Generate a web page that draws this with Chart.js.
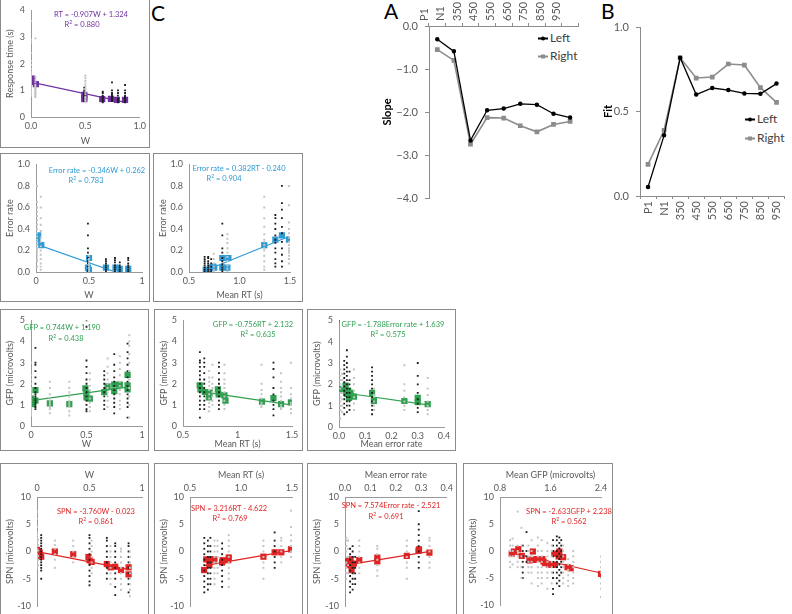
<!DOCTYPE html>
<html lang="en">
<head>
<meta charset="UTF-8">
<title>Slope, fit and behavioural correlations</title>
<script src="https://cdn.jsdelivr.net/npm/chart.js"></script>
<style>
  body { margin: 0; background: #fff; font-family: Lato, "Liberation Sans", sans-serif; }
  #page { position: relative; width: 792px; height: 614px; overflow: hidden; }
  #page canvas { position: absolute; }
  .box { position: absolute; border: 1.5px solid #8a8a8a; box-sizing: border-box; pointer-events: none; }
  .eq { position: absolute; font-size: 7.5px; white-space: nowrap; transform: translate(-50%, -50%); }
  .panel { position: absolute; font-size: 21px; color: #000; line-height: 21px; }
  .leg { position: absolute; font-size: 12px; color: #404040; white-space: nowrap; transform: translateY(-50%); }
  .leg i { display: inline-block; width: 10px; height: 1.5px; vertical-align: middle; margin-right: 2px; position: relative; }
  .leg i b { position: absolute; left: 3px; top: -1.5px; width: 4px; height: 4px; }
</style>
</head>
<body>
<div id="page">
  <div class="panel" style="left:384px; top:0px;">A</div>
  <div class="panel" style="left:601px; top:0px;">B</div>
  <div class="panel" style="left:151px; top:2px;">C</div>

  <div class="leg" style="left:538px; top:37px;"><i style="background:#000"><b style="background:#000;border-radius:2px"></b></i>Left</div>
  <div class="leg" style="left:538px; top:55px;"><i style="background:#8c8c8c"><b style="background:#8c8c8c"></b></i>Right</div>
  <div class="leg" style="left:745px; top:118px;"><i style="background:#000"><b style="background:#000;border-radius:2px"></b></i>Left</div>
  <div class="leg" style="left:745px; top:137px;"><i style="background:#8c8c8c"><b style="background:#8c8c8c"></b></i>Right</div>
</div>

<script>
// ---- A / B : slope and fit per latency window ----
const latencyLabels = ['P1', 'N1', '350', '450', '550', '650', '750', '850', '950'];
const slopeLeft  = [-0.31, -0.59, -2.66, -1.96, -1.92, -1.81, -1.83, -2.04, -2.13];
const slopeRight = [-0.55, -0.80, -2.75, -2.13, -2.14, -2.32, -2.46, -2.29, -2.22];
const fitLeft  = [0.053, 0.359, 0.818, 0.600, 0.639, 0.627, 0.607, 0.605, 0.665];
const fitRight = [0.187, 0.389, 0.818, 0.698, 0.704, 0.781, 0.775, 0.641, 0.554];

// ---- C : scatter panels, columns of [x, [y...]] ----
// RT vs W
const rtGray = [
  [0.0, [0.8, 0.85, 0.9, 0.95, 1.0, 1.05, 1.1, 1.15, 1.2, 1.25, 1.3, 1.35, 1.4, 1.45, 1.5, 1.55, 1.6, 1.65, 1.7, 1.8, 1.95, 2.1, 2.4, 2.8, 2.9, 3.6]],
  [0.04, [0.75, 0.8, 0.85, 0.9, 0.95, 1.0, 1.05, 1.1, 1.15, 1.2, 1.3, 1.4, 1.5, 2.95]],
  [0.5, [0.6, 0.65, 0.7, 0.75, 0.85, 0.95, 1.05, 1.15, 1.25, 1.35, 1.45, 1.55]]
];
const rtBlack = [
  [0.49, [0.6, 0.65, 0.7, 0.75, 0.8, 0.85, 0.9, 0.95, 1.0, 1.1]],
  [0.66, [0.55, 0.6, 0.65, 0.7, 0.75, 0.8, 0.9, 0.95]],
  [0.745, [0.6, 0.65, 0.7, 0.75, 0.8, 0.85, 0.9, 1.0, 1.3]],
  [0.8, [0.55, 0.6, 0.65, 0.7, 0.8, 0.9, 1.0]],
  [0.865, [0.55, 0.6, 0.65, 0.7, 0.75, 0.8, 0.9, 1.0, 1.2]]
];
const rtMeans = [[0.01, 1.44], [0.01, 1.32], [0.045, 1.23], [0.49, 0.83], [0.49, 0.74], [0.49, 0.67],
  [0.655, 0.67], [0.735, 0.68], [0.79, 0.64], [0.865, 0.64]];
const rtFit = [[0.0, 1.31], [0.88, 0.54]];

// Error rate vs W
const errWGray = [
  [0.01, [0.05, 0.1, 0.12, 0.15, 0.18, 0.2, 0.22, 0.25, 0.28, 0.3, 0.33, 0.36, 0.4, 0.44, 0.48, 0.52, 0.56, 0.6, 0.65, 0.8]],
  [0.045, [0.02, 0.05, 0.08, 0.12, 0.16, 0.2, 0.24, 0.28, 0.32, 0.38, 0.44, 0.5, 0.6, 0.7]],
  [0.5, [0.0, 0.02, 0.04, 0.06, 0.08, 0.1, 0.12, 0.15]]
];
const errWBlack = [
  [0.49, [0.0, 0.02, 0.05, 0.08, 0.1, 0.13, 0.18, 0.22, 0.34, 0.45]],
  [0.66, [0.0, 0.02, 0.04, 0.06, 0.08, 0.1, 0.12]],
  [0.745, [0.0, 0.02, 0.04, 0.06, 0.09, 0.11, 0.13]],
  [0.79, [0.0, 0.02, 0.04, 0.06, 0.09]],
  [0.87, [0.0, 0.02, 0.04, 0.06, 0.08, 0.11, 0.13]]
];
const errWMeans = [[0.013, 0.30], [0.02, 0.34], [0.05, 0.25], [0.5, 0.13], [0.49, 0.04], [0.5, 0.02],
  [0.66, 0.04], [0.75, 0.04], [0.79, 0.03], [0.87, 0.03]];
const errWFit = [[0.0, 0.26], [0.75, 0.0]];

// Error rate vs mean RT
const errRtGray = [
  [0.745, [0.0, 0.02, 0.05, 0.08, 0.12, 0.17]],
  [0.88, [0.0, 0.03, 0.06, 0.1, 0.14, 0.18, 0.22, 0.27, 0.31, 0.35]],
  [1.245, [0.02, 0.05, 0.1, 0.15, 0.2, 0.22, 0.25, 0.28, 0.3, 0.35, 0.42, 0.5, 0.6, 0.7]],
  [1.49, [0.08, 0.12, 0.15, 0.18, 0.2, 0.22, 0.25, 0.28, 0.32, 0.36, 0.4, 0.46, 0.62, 0.8]]
];
const errRtBlack = [
  [0.655, [0.0, 0.02, 0.04, 0.06, 0.08, 0.1, 0.12, 0.14]],
  [0.69, [0.0, 0.02, 0.04, 0.06, 0.08, 0.1, 0.13, 0.14]],
  [0.72, [0.0, 0.02, 0.05, 0.08, 0.12]],
  [0.83, [0.0, 0.02, 0.04, 0.07, 0.1, 0.13, 0.18, 0.22, 0.34, 0.45]],
  [1.355, [0.05, 0.08, 0.12, 0.18, 0.22, 0.27, 0.3, 0.34, 0.4, 0.45, 0.5, 0.53]],
  [1.42, [0.05, 0.1, 0.16, 0.22, 0.28, 0.36, 0.42, 0.5, 0.58, 0.64, 0.8]]
];
const errRtMeans = [[0.666, 0.02], [0.69, 0.02], [0.715, 0.04], [0.74, 0.05], [0.75, 0.04], [0.83, 0.13],
  [0.83, 0.04], [0.88, 0.04], [0.89, 0.13], [1.245, 0.25], [1.355, 0.30], [1.42, 0.34], [1.49, 0.30]];
const errRtFit = [[0.73, 0.04], [1.49, 0.33]];

// GFP vs W
const gfpWGray = [
  [0.0, [0.5, 0.6, 0.7, 0.8, 0.9, 1.0, 1.1, 1.2, 1.3, 1.4, 1.5, 1.6, 1.7, 1.8, 2.0, 2.2, 2.4, 3.0]],
  [0.17, [0.6, 0.8, 0.9, 1.0, 1.1, 1.2, 1.3, 1.5, 1.8, 2.1]],
  [0.345, [0.5, 0.7, 0.9, 1.0, 1.1, 1.2, 1.4, 1.6, 1.8, 2.1]],
  [0.53, [0.7, 0.9, 1.1, 1.3, 1.5, 1.7, 1.9, 2.2, 2.5]],
  [0.69, [0.9, 1.2, 1.4, 1.6, 1.8, 2.0, 2.2, 2.5, 2.8, 3.2]],
  [0.8, [0.8, 1.0, 1.2, 1.5, 1.7, 1.9, 2.1, 2.4, 2.7, 3.0, 3.3]],
  [0.885, [0.4, 1.0, 1.4, 1.8, 2.2, 2.6, 3.0, 3.4, 3.8, 4.0, 4.3]]
];
const gfpWBlack = [
  [0.04, [0.8, 0.9, 1.0, 1.1, 1.2, 1.3, 1.4, 1.5, 1.6, 1.8, 2.0, 2.3, 2.6, 2.9, 3.0, 3.7]],
  [0.5, [0.7, 0.8, 1.0, 1.2, 1.4, 1.6, 1.8, 2.0, 2.2, 2.5, 2.8, 3.1, 4.7, 5.0]],
  [0.66, [0.8, 1.0, 1.2, 1.4, 1.6, 1.8, 2.0, 2.2, 2.4, 2.6]],
  [0.75, [0.6, 0.9, 1.1, 1.3, 1.5, 1.7, 1.9, 2.1, 2.3, 2.6, 2.9, 3.4]],
  [0.87, [0.4, 0.9, 1.1, 1.3, 1.5, 1.7, 1.9, 2.1, 2.3, 2.6, 2.9, 3.2, 3.5, 3.9]]
];
const gfpWMeans = [[0.0, 1.3], [0.0, 1.15], [0.01, 1.04], [0.04, 1.7], [0.04, 1.2], [0.17, 1.07], [0.345, 1.04],
  [0.49, 1.78], [0.5, 1.55], [0.5, 1.35], [0.53, 1.3], [0.66, 1.6], [0.69, 1.88], [0.75, 1.96], [0.75, 1.65],
  [0.8, 1.96], [0.87, 2.42], [0.87, 1.92], [0.87, 1.73]];
const gfpWFit = [[0.0, 1.2], [0.87, 1.84]];

// GFP vs mean RT
const gfpRtGray = [
  [0.74, [0.7, 0.9, 1.1, 1.3, 1.5, 1.7, 1.9, 2.1, 2.3, 2.6]],
  [0.77, [1.0, 1.2, 1.4, 1.6, 1.8, 2.0, 2.3, 2.9]],
  [0.88, [0.8, 1.0, 1.2, 1.4, 1.6, 1.8, 2.0, 2.2, 2.5, 2.9]],
  [1.22, [0.9, 1.0, 1.1, 1.3, 1.5, 1.7, 2.0, 2.9]],
  [1.40, [0.8, 0.9, 1.0, 1.2, 1.4, 1.6, 1.8, 2.1, 2.5]],
  [1.49, [0.6, 0.8, 1.0, 1.1, 1.3, 1.5, 1.8, 3.0]]
];
const gfpRtBlack = [
  [0.655, [0.4, 0.8, 1.0, 1.2, 1.4, 1.6, 1.8, 2.0, 2.2, 2.4, 2.6, 2.8, 3.0, 3.1, 3.5]],
  [0.695, [0.8, 1.0, 1.2, 1.4, 1.6, 1.8, 2.0, 2.2, 2.5, 2.8, 3.0, 3.2]],
  [0.83, [0.8, 1.0, 1.2, 1.4, 1.6, 1.8, 2.0, 2.2, 2.5, 2.8, 3.0]],
  [1.33, [0.5, 0.8, 1.0, 1.2, 1.5, 1.8, 2.3, 2.7, 3.0]]
];
const gfpRtMeans = [[0.653, 1.93], [0.66, 1.73], [0.70, 1.61], [0.745, 1.58], [0.737, 1.35], [0.82, 1.73],
  [0.827, 1.5], [0.88, 1.45], [0.89, 1.2], [1.225, 1.15], [1.33, 1.32], [1.40, 1.04], [1.49, 1.12]];
const gfpRtFit = [[0.65, 1.64], [1.49, 1.0]];

// GFP vs mean error rate
const gfpErrGray = [
  [0.005, [0.4, 0.8, 1.0, 1.2, 1.4, 1.6, 1.8, 2.0, 2.2, 2.4, 2.7]],
  [0.012, [0.7, 1.0, 1.3, 1.6, 1.9, 2.2, 2.5]],
  [0.057, [0.8, 1.1, 1.4, 1.7, 2.0, 2.3, 2.7]],
  [0.133, [0.8, 1.0, 1.2, 1.5, 1.8]],
  [0.249, [0.8, 1.0, 1.2, 1.4, 1.7, 2.0, 2.9]],
  [0.338, [0.6, 0.8, 1.0, 1.2, 1.5, 1.8, 2.3]]
];
const gfpErrBlack = [
  [0.0, [5.0]],
  [0.02, [0.6, 0.9, 1.1, 1.3, 1.5, 1.7, 1.9, 2.1, 2.3, 2.5, 2.7, 2.9, 3.1]],
  [0.03, [0.7, 1.0, 1.2, 1.4, 1.6, 1.8, 2.0, 2.2, 2.4, 2.6, 2.8, 3.0, 3.3, 3.6]],
  [0.04, [0.8, 1.0, 1.2, 1.4, 1.6, 1.8, 2.0, 2.2, 2.6]],
  [0.126, [0.6, 0.8, 1.0, 1.2, 1.4, 1.6, 1.8, 2.0, 2.2, 2.4, 2.6, 2.8]],
  [0.3, [0.7, 0.9, 1.1, 1.3, 1.6, 2.0, 2.4, 3.0]]
];
const gfpErrMeans = [[0.006, 1.78], [0.016, 1.7], [0.025, 1.94], [0.03, 1.55], [0.035, 1.7], [0.038, 1.37],
  [0.044, 1.6], [0.057, 1.42], [0.126, 1.6], [0.133, 1.22], [0.249, 1.22], [0.3, 1.37], [0.3, 1.17], [0.338, 1.07]];
const gfpErrFit = [[0.005, 1.63], [0.338, 1.04]];

// SPN vs W
const spnWGray = [
  [0.0, [-3, -2.5, -2, -1.5, -1, -0.5, 0, 0.5, 1, 1.5, 2, 2.5, 3, 3.5, 4.5, 6, 7.3]],
  [0.01, [-2.5, -1.5, -0.8, 0.2, 1.2, 2.2]],
  [0.17, [-3, -1.5, -0.5, 0.5, 1.2, 2]],
  [0.345, [-2, -1, 0, 1, 2]],
  [0.52, [-4, -3, -2, -1, 0, 1, 2]],
  [0.7, [-6, -5, -4, -3, -2, -1, 0, 1]],
  [0.8, [-7, -6, -5, -4, -3, -2, -1, 0, 0.5]],
  [0.885, [-8.2, -7, -6, -5, -4, -3, -2, -1, 0]]
];
const spnWBlack = [
  [0.04, [-5, -3.5, -3, -2.5, -2, -1.5, -1, -0.5, 0, 0.5, 1, 1.5, 2, 2.5, 3]],
  [0.5, [-6.2, -5.5, -4.5, -3.5, -2.5, -1.5, -0.5, 0.5, 1.5, 2.5, 3]],
  [0.665, [-5, -4, -3, -2, -1, 0, 1, 2, 2.5]],
  [0.745, [-8, -6.5, -5, -4, -3, -2, -1, 0, 1, 1.5]],
  [0.872, [-7.5, -6, -5, -4, -3, -2, -1, 0, 1, 1.5]]
];
const spnWMeans = [[0.0, 0.3], [0.01, 0.0], [0.025, -0.2], [0.04, -0.95], [0.17, 0.0], [0.345, -0.5],
  [0.49, -1.0], [0.5, -1.6], [0.52, -1.9], [0.665, -2.3], [0.7, -2.9], [0.745, -2.8], [0.8, -3.4],
  [0.872, -2.9], [0.872, -4.2]];
const spnWFit = [[0.0, -0.02], [0.87, -3.29]];

// SPN vs mean RT
const spnRtGray = [
  [0.74, [-6, -5, -4, -3, -2, -1, 0, 1, 2]],
  [0.77, [-4, -3, -2, -1, 0, 1, 2]],
  [0.88, [-6.5, -5, -4, -3, -2, -1, 0, 1, 2, 3]],
  [1.22, [-5, -3, -2, -1, 0, 1, 2]],
  [1.395, [-2, -1, 0, 1, 2, 2.5]],
  [1.49, [-1, 0, 1, 2, 3, 4.5, 7.5]]
];
const spnRtBlack = [
  [0.64, [-7.5, -6.5, -5.5, -4.5, -3.5, -2.5, -1.5, -0.5, 0.5, 1.5, 2.5]],
  [0.675, [-7, -6, -5, -4, -3, -2, -1, 0, 1, 2]],
  [0.7, [-6, -5, -4, -3, -2, -1, 0, 1, 2.5]],
  [0.815, [-6.5, -5.5, -4.5, -3.5, -2.5, -1.5, -0.5, 0.5, 1.5]],
  [1.33, [-3, -2, -1, 0, 1, 2, 3.5]]
];
const spnRtMeans = [[0.638, -3.4], [0.66, -1.45], [0.69, -2.5], [0.7, -1.45], [0.74, -1.45], [0.815, -2.0],
  [0.82, -1.6], [0.874, -1.6], [0.88, -1.1], [1.22, -0.95], [1.33, -0.15], [1.395, -0.15], [1.49, 0.4]];
const spnRtFit = [[0.64, -2.58], [1.49, 0.17]];

// SPN vs mean error rate
const spnErrGray = [
  [0.005, [-5, -4, -3, -2, -1, 0, 1, 2, 2.5]],
  [0.012, [-4, -2.5, -1, 0.5, 2]],
  [0.056, [-4, -3, -2, -1, 0, 1, 2]],
  [0.127, [-4.5, -3.5, -2.5, -1.5, -0.5, 0.5, 1]],
  [0.243, [-5, -3, -2, -1, 0, 1, 2]],
  [0.332, [-3, -2, -1, 0, 1, 2, 2.5]]
];
const spnErrBlack = [
  [0.02, [-7.5, -6.5, -5.5, -4.5, -3.5, -2.5, -1.5, -0.5, 0.5]],
  [0.03, [-7, -6, -5, -4, -3, -2, -1, 0, 1]],
  [0.04, [-6, -5, -4, -3, -2, -1]],
  [0.29, [-3, -2, -1, 0, 1, 2, 3, 4, 5, 7.4]]
];
const spnErrMeans = [[0.007, -1.45], [0.017, -2.5], [0.022, -1.45], [0.026, -3.4], [0.03, -2.5], [0.035, -2.2],
  [0.056, -1.6], [0.127, -1.1], [0.127, -1.8], [0.243, -0.8], [0.289, 0.1], [0.291, 0.4], [0.332, -0.2]];
const spnErrFit = [[0.003, -2.5], [0.335, 0.02]];

// SPN vs mean GFP
const spnGfpGray = [
  [0.96, [-3, -2, -1, 0, 1, 2]],
  [1.0, [-2.5, -1, 0, 1, 2.3]],
  [1.08, [-3, -2, -1, 0, 1, 7.3]],
  [1.14, [-5, -3, -1, 1, 4.3]],
  [1.25, [-4, -3, -2, -1, 0, 1]],
  [1.3, [-6, -4, -3, -2, -1, 0, 2]],
  [1.4, [-6.5, -5, -4, -3, -2, -1, 0, 1, 2.5]],
  [1.46, [-6, -5, -4, -3, -2, -1, 0, 2]],
  [1.55, [-7, -5, -4, -3, -2, -1, 0, 1.5]],
  [1.62, [-6, -4, -3, -2, -1, 0, 1]],
  [1.8, [-6, -5, -4, -3, -2, -1, 0, 1]],
  [1.88, [-6.5, -5.5, -4.5, -3.5, -2.5, -1.5]],
  [1.96, [-6, -5, -4, -3, -2, -1, 0]],
  [2.4, [-8.5, -7, -6, -5, -4, -3, -2, -1]]
];
const spnGfpBlack = [
  [1.16, [-5, -4, -3, -2, -1, 0, 1]],
  [1.22, [-2, -1, 0, 3.5]],
  [1.64, [-8, -7, -5, -4, -3, -2, -1, 0, 1, 2]],
  [1.7, [-6, -5, -4, -3, -2, -1, 0, 1, 2, 2.7]],
  [1.74, [-6.5, -5.5, -4.5, -3.5, -2.5, -1.5, -0.5, 0.5, 1.5, 2.5]],
  [1.77, [-4, -3, -2, -1, 0, 1, 2]]
];
const spnGfpMeans = [[0.985, -0.5], [1.02, -0.1], [1.09, 0.35], [1.145, -0.9], [1.266, -1.75], [1.32, -0.1],
  [1.33, -1.65], [1.38, -1.5], [1.47, -1.5], [1.49, -1.95], [1.515, -2.25], [1.575, -2.55], [1.62, -2.55],
  [1.66, -0.5], [1.67, -2.55], [1.73, -1.0], [1.74, -0.1], [1.8, -1.15], [1.87, -3.0], [1.92, -3.2], [2.4, -4.25]];
const spnGfpFit = [[0.98, -0.34], [2.4, -4.08]];

const PURPLE = '#7030a0', BLUE = '#2e9bd6', GREEN = '#2fa050', RED = '#e02424';
const TXT = '#595959', AXIS = '#9a9a9a';

Chart.defaults.font.family = 'Lato, "Liberation Sans", sans-serif';
Chart.defaults.color = TXT;

const page = document.getElementById('page');

function colPoints(cols) {
  const pts = [];
  cols.forEach(([x, ys]) => ys.forEach(y => pts.push({ x, y })));
  return pts;
}
function pairs(arr) { return arr.map(([x, y]) => ({ x, y })); }

function addCanvas(left, top, w, h) {
  const cv = document.createElement('canvas');
  cv.width = w; cv.height = h;
  cv.style.left = left + 'px'; cv.style.top = top + 'px';
  page.appendChild(cv);
  return cv;
}

function equation(cx, cy, text, color) {
  const d = document.createElement('div');
  d.className = 'eq';
  d.style.left = cx + 'px'; d.style.top = cy + 'px'; d.style.color = color;
  d.innerHTML = text;
  page.appendChild(d);
}

// tick label: fixed decimals, or shortest form when d < 0 (0, 0.5, 1)
const fmt = d => v => d < 0 ? String(Math.round(v * 100) / 100) : v.toFixed(d);

// box = [left, top, w, h], plot = [x1, y1, x2, y2] in page coords
function scatterPanel(p) {
  const [bl, bt, bw, bh] = p.box;
  const cv = addCanvas(bl, bt, bw, bh);
  const frame = document.createElement('div');
  frame.className = 'box';
  Object.assign(frame.style, { left: bl + 'px', top: bt + 'px', width: bw + 'px', height: bh + 'px' });
  page.appendChild(frame);

  const l = p.plot[0] - bl, t = p.plot[1] - bt, r = p.plot[2] - bl, b = p.plot[3] - bt;
  const onTop = p.xTop;

  new Chart(cv, {
    type: 'scatter',
    data: {
      datasets: [
        { data: colPoints(p.gray), backgroundColor: '#c4c4c4', borderWidth: 0, pointStyle: 'rect', pointRadius: 1.4 },
        { data: colPoints(p.black), backgroundColor: '#1c1c1c', borderWidth: 0, pointStyle: 'rect', pointRadius: 1.3 },
        { data: pairs(p.fit), showLine: true, borderColor: p.color, borderWidth: 1.2, pointRadius: 0 },
        { data: pairs(p.means), backgroundColor: p.color, borderWidth: 0, pointStyle: 'rect', pointRadius: 4.4 }
      ]
    },
    options: {
      responsive: false, animation: false, events: [],
      layout: { padding: { left: 0, right: bw - r, top: onTop ? 0 : t, bottom: onTop ? bh - b : 0 } },
      plugins: { legend: { display: false }, tooltip: { enabled: false } },
      scales: {
        x: {
          type: 'linear', position: onTop ? 'top' : 'bottom',
          min: p.x[0], max: p.x[1],
          ticks: { stepSize: p.x[2], callback: fmt(p.x[3]), font: { size: 9 }, color: TXT, padding: 4, maxRotation: 0, autoSkip: false },
          grid: { display: false, drawTicks: false },
          border: { color: AXIS, width: 1 },
          title: { display: true, text: p.xTitle, font: { size: 9 }, color: TXT,
            padding: onTop ? { top: 7, bottom: 0 } : { top: 0, bottom: 2 } },
          afterFit: s => { s.height = onTop ? t : bh - b; }
        },
        y: {
          min: p.y[0], max: p.y[1],
          ticks: { stepSize: p.y[2], callback: fmt(p.y[3]), font: { size: 9 }, color: TXT, padding: 6 },
          grid: { display: false, drawTicks: false },
          border: { color: AXIS, width: 1 },
          title: { display: true, text: p.yTitle, font: { size: 9 }, color: TXT, padding: { top: 5, bottom: 0 } },
          afterFit: s => { s.width = l; }
        }
      }
    }
  });
  p.eq.forEach(([cx, cy, txt]) => equation(cx, cy, txt, p.color));
}

const R2 = 'R<sup style="font-size:5px">2</sup>';

scatterPanel({
  box: [0, -1, 150, 149], plot: [31, 10, 140, 117], color: PURPLE,
  x: [0, 1, 0.5, 1], y: [0, 4, 1, 0], xTitle: 'W', yTitle: 'Response time (s)',
  gray: rtGray, black: rtBlack, means: rtMeans, fit: rtFit,
  eq: [[91, 14, 'RT = -0.907W + 1.324'], [82, 24, R2 + ' = 0.880']]
});
scatterPanel({
  box: [0, 153, 150, 149], plot: [36, 164, 142, 272], color: BLUE,
  x: [0, 1, 0.5, -1], y: [0, 1, 0.2, 1], xTitle: 'W', yTitle: 'Error rate',
  gray: errWGray, black: errWBlack, means: errWMeans, fit: errWFit,
  eq: [[97, 170, 'Error rate = -0.346W + 0.262'], [86, 180, R2 + ' = 0.783']]
});
scatterPanel({
  box: [153, 153, 150, 149], plot: [189, 164, 290, 272], color: BLUE,
  x: [0.5, 1.5, 0.5, 1], y: [0, 1, 0.2, 1], xTitle: 'Mean RT (s)', yTitle: 'Error rate',
  gray: errRtGray, black: errRtBlack, means: errRtMeans, fit: errRtFit,
  eq: [[239, 168, 'Error rate = 0.382RT - 0.240'], [224, 178, R2 + ' = 0.904']]
});
scatterPanel({
  box: [0, 309, 149, 142], plot: [31, 317, 142, 426], color: GREEN,
  x: [0, 1, 0.5, -1], y: [0, 5, 1, 0], xTitle: 'W', yTitle: 'GFP (microvolts)',
  gray: gfpWGray, black: gfpWBlack, means: gfpWMeans, fit: gfpWFit,
  eq: [[62, 327, 'GFP = 0.744W + 1.190'], [66, 338, R2 + ' = 0.438']]
});
scatterPanel({
  box: [154, 309, 149, 142], plot: [183, 317, 292, 426], color: GREEN,
  x: [0.5, 1.5, 0.5, -1], y: [0, 5, 1, 0], xTitle: 'Mean RT (s)', yTitle: 'GFP (microvolts)',
  gray: gfpRtGray, black: gfpRtBlack, means: gfpRtMeans, fit: gfpRtFit,
  eq: [[253, 324, 'GFP = -0.756RT + 2.132'], [258, 334, R2 + ' = 0.635']]
});
scatterPanel({
  box: [307, 309, 149, 142], plot: [339, 317, 444, 427], color: GREEN,
  x: [0, 0.4, 0.1, 1], y: [0, 5, 1, 0], xTitle: 'Mean error rate', yTitle: 'GFP (microvolts)',
  gray: gfpErrGray, black: gfpErrBlack, means: gfpErrMeans, fit: gfpErrFit,
  eq: [[393, 324, 'GFP = -1.788Error rate + 1.639'], [388, 334, R2 + ' = 0.575']]
});
scatterPanel({
  box: [0, 463, 149, 160], plot: [37, 497, 142, 606], color: RED, xTop: true,
  x: [0, 1, 0.5, -1], y: [-10, 10, 5, 0], xTitle: 'W', yTitle: 'SPN (microvolts)',
  gray: spnWGray, black: spnWBlack, means: spnWMeans, fit: spnWFit,
  eq: [[96, 511, 'SPN = -3.760W - 0.023'], [96, 521, R2 + ' = 0.861']]
});
scatterPanel({
  box: [154, 463, 149, 160], plot: [190, 497, 292, 606], color: RED, xTop: true,
  x: [0.5, 1.5, 0.5, 1], y: [-10, 10, 5, 0], xTitle: 'Mean RT (s)', yTitle: 'SPN (microvolts)',
  gray: spnRtGray, black: spnRtBlack, means: spnRtMeans, fit: spnRtFit,
  eq: [[229, 508, 'SPN = 3.216RT - 4.622'], [230, 518, R2 + ' = 0.769']]
});
scatterPanel({
  box: [307, 463, 150, 160], plot: [345, 497, 447, 606], color: RED, xTop: true,
  x: [0, 0.4, 0.1, 1], y: [-10, 10, 5, 0], xTitle: 'Mean error rate', yTitle: 'SPN (microvolts)',
  gray: spnErrGray, black: spnErrBlack, means: spnErrMeans, fit: spnErrFit,
  eq: [[391, 505, 'SPN = 7.574Error rate - 2.521'], [386, 516, R2 + ' = 0.691']]
});
scatterPanel({
  box: [463, 463, 150, 160], plot: [500, 497, 601, 605], color: RED, xTop: true,
  x: [0.8, 2.4, 0.8, 1], y: [-10, 10, 5, 0], xTitle: 'Mean GFP (microvolts)', yTitle: 'SPN (microvolts)',
  gray: spnGfpGray, black: spnGfpBlack, means: spnGfpMeans, fit: spnGfpFit,
  eq: [[569, 511, 'SPN = -2.633GFP + 2.238'], [569, 521, R2 + ' = 0.562']]
});

// ---- line panels A and B ----
function linePanel(o) {
  const cv = addCanvas(o.left, o.top, o.w, o.h);
  const l = o.plot[0] - o.left, t = o.plot[1] - o.top, r = o.plot[2] - o.left, b = o.plot[3] - o.top;
  const onTop = o.xTop;
  new Chart(cv, {
    type: 'line',
    data: {
      labels: latencyLabels,
      datasets: [
        { label: 'Left', data: o.leftData, borderColor: '#000', backgroundColor: '#000', borderWidth: 1.3, pointRadius: 1.6, pointStyle: 'circle', tension: 0 },
        { label: 'Right', data: o.rightData, borderColor: '#8c8c8c', backgroundColor: '#8c8c8c', borderWidth: 1.6, pointRadius: 2.2, pointStyle: 'rect', tension: 0 }
      ]
    },
    options: {
      responsive: false, animation: false, events: [],
      layout: { padding: { left: 0, right: o.w - r, top: onTop ? 0 : t, bottom: onTop ? o.h - b : 0 } },
      plugins: { legend: { display: false }, tooltip: { enabled: false } },
      scales: {
        x: {
          position: onTop ? 'top' : 'bottom', offset: true,
          ticks: { minRotation: 90, maxRotation: 90, font: { size: 11 }, color: TXT, padding: 2, autoSkip: false },
          grid: { display: true, drawOnChartArea: false, offset: true, tickLength: 3, color: '#8c8c8c' },
          border: { color: '#8c8c8c' },
          afterFit: s => { s.height = onTop ? t : o.h - b; }
        },
        y: {
          min: o.y[0], max: o.y[1],
          ticks: { stepSize: o.y[2], font: { size: 11 }, color: TXT, padding: 7,
            callback: v => (v < 0 ? '\u2212' : '') + Math.abs(v).toFixed(1) },
          grid: { display: true, drawOnChartArea: false, tickLength: 4, color: '#8c8c8c' },
          border: { color: '#8c8c8c' },
          title: { display: true, text: o.yTitle, font: { size: 11, weight: 'bold' }, color: '#000', padding: { top: 0, bottom: 0 } },
          afterFit: s => { s.width = l; }
        }
      }
    }
  });
}

linePanel({
  left: 381, top: 0, w: 203, h: 230, plot: [429, 26, 579, 198], xTop: true,
  y: [-4, 0, 1], yTitle: 'Slope', leftData: slopeLeft, rightData: slopeRight
});
linePanel({
  left: 602, top: 0, w: 190, h: 230, plot: [640, 27, 792, 196],
  y: [0, 1, 0.5], yTitle: 'Fit', leftData: fitLeft, rightData: fitRight
});
</script>
</body>
</html>
